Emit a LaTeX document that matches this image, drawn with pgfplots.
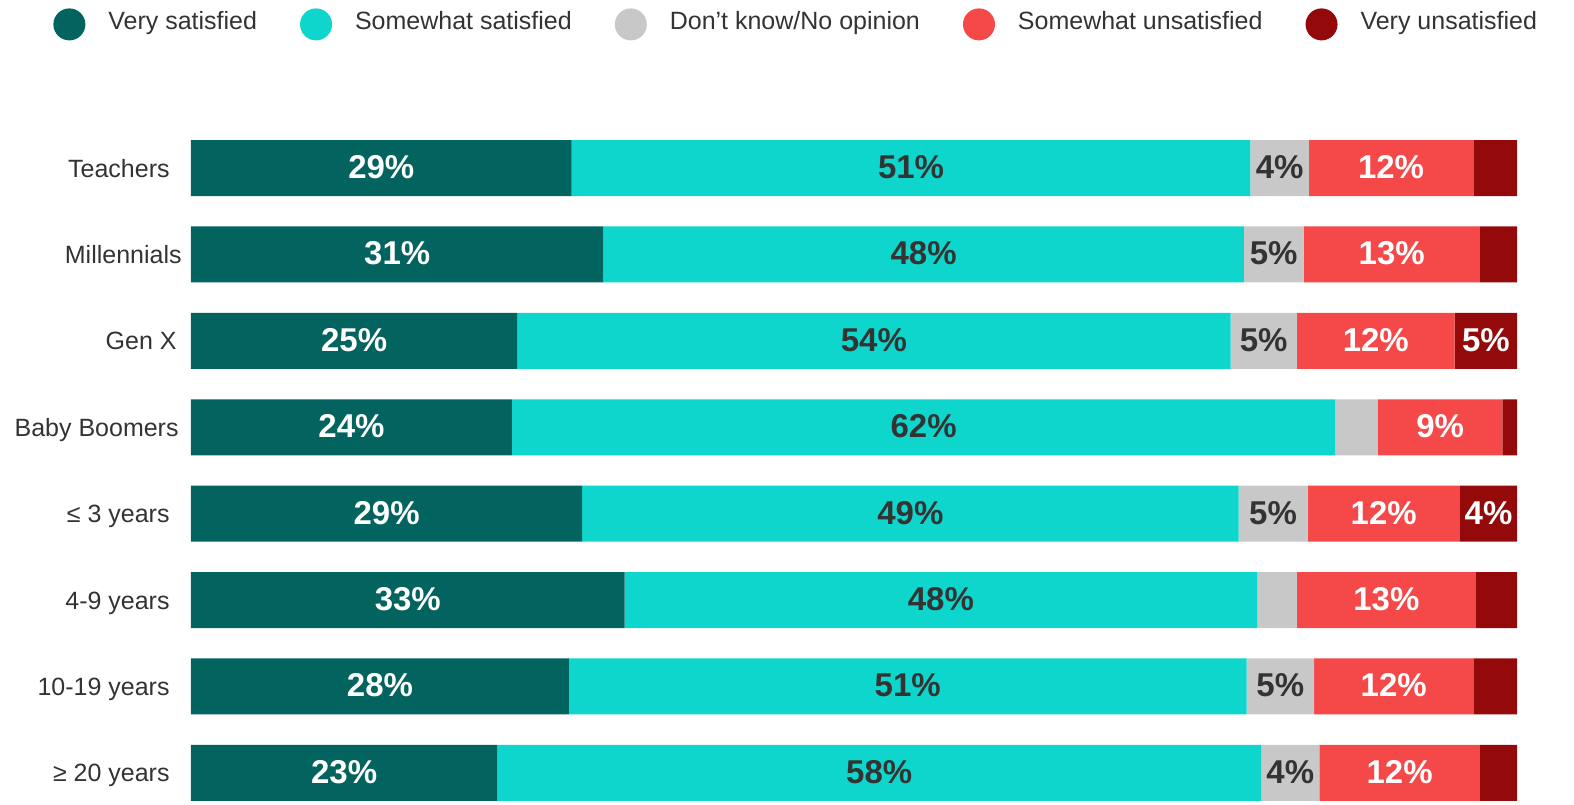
\documentclass[border=0pt]{standalone}
\usepackage{fontspec}
\setmainfont{Liberation Sans}
\usepackage{pgfplots}
\pgfplotsset{compat=1.18}
\definecolor{vsat}{HTML}{02635F}
\definecolor{ssat}{HTML}{0ED6CC}
\definecolor{dunno}{HTML}{C8C8C8}
\definecolor{suns}{HTML}{F54848}
\definecolor{vuns}{HTML}{940A0A}
\definecolor{txt}{HTML}{333333}

% shared geometry for the bar axis and the label overlay
\pgfplotsset{
  frame/.style={
    at={(95.5pt,0pt)}, anchor=south west,
    scale only axis, width=663pt, height=339.6pt,
    xmin=0, xmax=100, ymin=-0.5, ymax=7.36, y dir=reverse,
  },
  seglabel/.style={draw=none, mark=none, nodes near coords,
    point meta=explicit symbolic,
    every node near coord/.append style={anchor=base, inner sep=0pt,
      font=\fontsize{16.5}{19}\selectfont\bfseries, text=#1, yshift=-5.2pt}},
}

\begin{document}
\begin{tikzpicture}
\path[use as bounding box] (0,0) rectangle (787pt,402pt);
\begin{axis}[
  frame,
  xbar stacked, bar width=0.648,
  axis line style={draw=none},
  xtick=\empty,
  ytick={0,...,7},
  yticklabels={Teachers, Millennials\kern-6pt, Gen X\kern-3.5pt,
    Baby Boomers\kern-4.5pt, {≤ 3 years}, 4-9 years, 10-19 years, {≥ 20 years}},
  major tick length=0pt,
  yticklabel style={font=\fontsize{12.5}{15}\selectfont, text=txt,
    anchor=base east, inner sep=0pt, xshift=-10.5pt, yshift=-4.5pt},
  legend columns=5,
  legend cell align=left,
  legend image code/.code={\fill[#1] (8pt,-1.2pt) circle (8pt);},
  legend style={at={(-0.1041,1.1720)}, anchor=north west, draw=none, fill=none,
    inner sep=0pt, font=\fontsize{12.5}{15}\selectfont, text=txt,
    nodes={inner sep=0pt},
    /tikz/every odd column/.append style={column sep=11.5pt},
    /tikz/every even column/.append style={column sep=21.5pt}},
]
% Very satisfied
\addplot[fill=vsat, draw=none] coordinates {
  (28.7,0) (31.1,1) (24.6,2) (24.2,3) (29.5,4) (32.7,5) (28.5,6) (23.1,7)};
% Somewhat satisfied
\addplot[fill=ssat, draw=none] coordinates {
  (51.2,0) (48.3,1) (53.8,2) (62.1,3) (49.5,4) (47.7,5) (51.1,6) (57.6,7)};
% Don't know / No opinion
\addplot[fill=dunno, draw=none] coordinates {
  (4.4,0) (4.5,1) (5.0,2) (3.2,3) (5.2,4) (3.0,5) (5.1,6) (4.4,7)};
% Somewhat unsatisfied
\addplot[fill=suns, draw=none] coordinates {
  (12.4,0) (13.3,1) (11.9,2) (9.4,3) (11.5,4) (13.5,5) (12.0,6) (12.1,7)};
% Very unsatisfied
\addplot[fill=vuns, draw=none] coordinates {
  (3.3,0) (2.8,1) (4.7,2) (1.1,3) (4.3,4) (3.1,5) (3.3,6) (2.8,7)};
\legend{Very satisfied, Somewhat satisfied, Don't know/No opinion,
  Somewhat unsatisfied, Very unsatisfied}
\end{axis}

% segment labels, placed at the middle of each segment
\begin{axis}[frame, hide axis]
% on dark / red segments
\addplot[seglabel=white] coordinates {
  (14.35,0) [29\%] (15.55,1) [31\%] (12.3,2) [25\%] (12.1,3) [24\%]
  (14.75,4) [29\%] (16.35,5) [33\%] (14.25,6) [28\%] (11.55,7) [23\%]
  (90.5,0) [12\%] (90.55,1) [13\%] (89.35,2) [12\%] (94.2,3) [9\%]
  (89.95,4) [12\%] (90.15,5) [13\%] (90.7,6) [12\%] (91.15,7) [12\%]
  (97.65,2) [5\%] (97.85,4) [4\%]};
% on light segments
\addplot[seglabel=txt] coordinates {
  (54.3,0) [51\%] (55.25,1) [48\%] (51.5,2) [54\%] (55.25,3) [62\%]
  (54.25,4) [49\%] (56.55,5) [48\%] (54.05,6) [51\%] (51.9,7) [58\%]
  (82.1,0) [4\%] (81.65,1) [5\%] (80.9,2) [5\%] (81.6,4) [5\%]
  (82.15,6) [5\%] (82.9,7) [4\%]};
\end{axis}
\end{tikzpicture}
\end{document}
